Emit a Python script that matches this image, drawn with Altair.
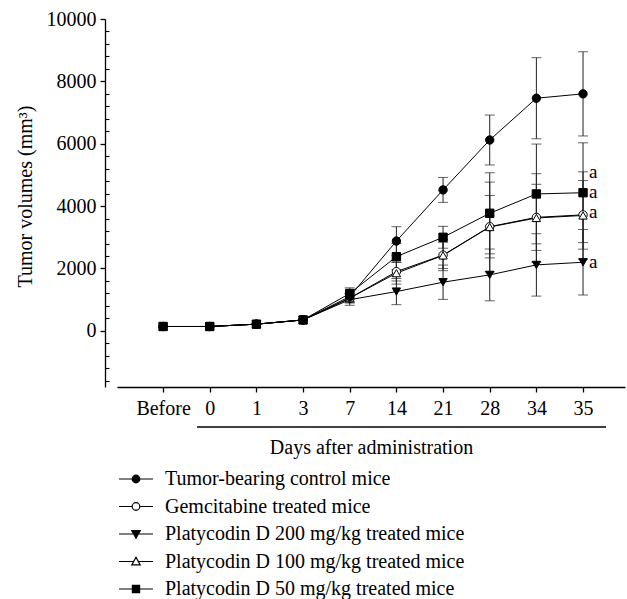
import altair as alt
import pandas as pd

days = ["Before", "0", "1", "3", "7", "14", "21", "28", "34", "35"]
series_names = [
    "Tumor-bearing control mice",
    "Gemcitabine treated mice",
    "Platycodin D 200 mg/kg treated mice",
    "Platycodin D 100 mg/kg treated mice",
    "Platycodin D 50 mg/kg treated mice",
]
control = [140, 140, 215, 350, 1100, 2880, 4520, 6120, 7460, 7600]
control_sd = [0, 0, 0, 0, 150, 460, 400, 800, 1300, 1350]
gem = [140, 140, 215, 350, 1050, 1900, 2430, 3340, 3640, 3720]
gem_sd = [0, 0, 0, 0, 150, 300, 500, 1000, 1060, 1100]
pd200 = [140, 140, 215, 350, 1000, 1260, 1560, 1795, 2115, 2200]
pd200_sd = [0, 0, 0, 0, 180, 420, 550, 830, 1000, 1050]
pd100 = [140, 140, 215, 350, 1050, 1850, 2420, 3330, 3620, 3700]
pd100_sd = [0, 0, 0, 0, 150, 350, 420, 1440, 1420, 1400]
pd50 = [140, 140, 215, 350, 1200, 2380, 3000, 3770, 4390, 4430]
pd50_sd = [0, 0, 0, 0, 180, 420, 350, 1300, 1600, 1600]
sig_labels = ["a", "a", "a", "a"]
sig_values = [5050, 4430, 3790, 2170]
sig_day = "35"

values = [control, gem, pd200, pd100, pd50]
sds = [control_sd, gem_sd, pd200_sd, pd100_sd, pd50_sd]

rows = []
for s, v, e in zip(series_names, values, sds):
    for i, d in enumerate(days):
        rows.append({"series": s, "day": d, "idx": i, "value": v[i], "sd": e[i],
                     "lo": v[i] - e[i], "hi": v[i] + e[i]})
df = pd.DataFrame(rows)
err = df[df.sd > 0]
caps = pd.concat([
    err[["series", "day", "lo"]].rename(columns={"lo": "cap"}),
    err[["series", "day", "hi"]].rename(columns={"hi": "cap"}),
])
sig = pd.DataFrame({"label": sig_labels, "value": sig_values, "day": [sig_day] * len(sig_labels)})

FONT = "Liberation Serif"
FS = 20

xscale = alt.Scale(type="point", domain=days, padding=0.9435, align=0.5235)
yscale = alt.Scale(domain=[-1800, 10000], nice=False, zero=False)

X = alt.X("day:O", scale=xscale, sort=days, title="Days after administration",
          axis=alt.Axis(labelAngle=0, tickSize=5, labelPadding=6, domainWidth=1.3,
                        tickWidth=1.3, labelFont=FONT, labelFontSize=FS, titleFont=FONT,
                        titleFontSize=FS, titleFontWeight="normal", titleBaseline="alphabetic",
                        titleY=66, labelColor="black", titleColor="black",
                        domainColor="black", tickColor="black", grid=False))

yaxis_main = alt.Axis(values=[0, 2000, 4000, 6000, 8000, 10000], format="d", offset=12,
                      tickSize=5, labelPadding=4, domainWidth=1.3, tickWidth=1.3, grid=False,
                      labelFont=FONT, labelFontSize=FS, titleFont=FONT, titleFontSize=FS,
                      titleFontWeight="normal", title="Tumor volumes (mm\u00b3)",
                      titleX=-80, titleY=177, titleBaseline="middle",
                      labelColor="black", titleColor="black", domainColor="black",
                      tickColor="black")
minor_vals = [v for v in range(-1600, 10000, 400) if v % 2000 != 0]
yaxis_minor = alt.Axis(values=minor_vals, orient="right", offset=-520, tickSize=4,
                       labels=False, domain=False, title=None, grid=False,
                       tickWidth=1.1, tickColor="black")

shape_names = ["circle", "circle", "triangle-down", "triangle-up", "square"]
fills = ["black", "white", "black", "white", "black"]

legend_paths = [
    "M-1.7,0H-0.38M0.38,0H1.7M0.38,0A0.38,0.38 0 1,1 -0.38,0A0.38,0.38 0 1,1 0.38,0Z",
    "M-1.7,0H-0.38M0.38,0H1.7M0.38,0A0.38,0.38 0 1,1 -0.38,0A0.38,0.38 0 1,1 0.38,0Z",
    "M-1.7,0H-0.3M0.3,0H1.7M-0.42,-0.34L0.42,-0.34L0,0.42Z",
    "M-1.7,0H-0.24M0.24,0H1.7M-0.42,0.34L0.42,0.34L0,-0.42Z",
    "M-1.7,0H-0.36M0.36,0H1.7M-0.36,-0.36H0.36V0.36H-0.36Z",
]

rules = alt.Chart(err).mark_rule(color="#222", strokeWidth=1).encode(
    x=X, y=alt.Y("lo:Q", scale=yscale, axis=yaxis_minor), y2="hi:Q")
cap_layer = alt.Chart(caps).mark_tick(orient="horizontal", size=10, thickness=1, color="#222").encode(
    x=X, y=alt.Y("cap:Q", scale=yscale, axis=None))

lines = alt.Chart(df).mark_line(color="black", strokeWidth=1).encode(
    x=X,
    y=alt.Y("value:Q", scale=yscale, axis=yaxis_main),
    detail="series:N", order="idx:Q")

points = alt.Chart(df).mark_point(stroke="black", strokeWidth=1, opacity=1, size=70).encode(
    x=X,
    y=alt.Y("value:Q", scale=yscale, axis=None),
    shape=alt.Shape("series:N", scale=alt.Scale(domain=series_names, range=shape_names), legend=None),
    fill=alt.Fill("series:N", scale=alt.Scale(domain=series_names, range=fills), legend=None),
    order=alt.Order("zorder:Q"),
).transform_calculate(zorder="datum.series == 'Tumor-bearing control mice' ? 10 : 0")

legend_layer = alt.Chart(df).transform_filter("false").mark_point(
    strokeWidth=1.2, opacity=1).encode(
    x=X,
    y=alt.Y("value:Q", scale=yscale, axis=None),
    shape=alt.Shape("series:N", scale=alt.Scale(domain=series_names, range=legend_paths),
                    legend=alt.Legend(title=None, orient="none", legendX=8, legendY=449,
                                      symbolSize=400, symbolStrokeWidth=1.2, symbolOpacity=1,
                                      labelFont=FONT, labelFontSize=FS, labelColor="black",
                                      labelOffset=18, rowPadding=6.5, padding=0,
                                      labelLimit=500)),
    fill=alt.Fill("series:N", scale=alt.Scale(domain=series_names, range=fills)),
    stroke=alt.Stroke("series:N", scale=alt.Scale(domain=series_names, range=["black"] * 5)),
)

sig_layer = alt.Chart(sig).mark_text(font=FONT, fontSize=19, align="left", baseline="middle",
                                     dx=6, dy=-1, color="black").encode(
    x=X, y=alt.Y("value:Q", scale=yscale, axis=None), text="label:N")

bracket = alt.Chart(pd.DataFrame({"k": [0]})).mark_rule(color="black", strokeWidth=1.3).encode(
    x=alt.value(80), x2=alt.value(489), y=alt.value(408))

chart = alt.layer(rules, cap_layer, lines, points, legend_layer, sig_layer, bracket).resolve_scale(
    shape="independent", fill="independent", stroke="independent").resolve_axis(
    y="independent").properties(
    width=508, height=368,
    background="white",
    autosize=alt.AutoSizeParams(type="none"),
    padding={"left": 117, "top": 19, "right": 2, "bottom": 212},
).configure_view(strokeWidth=0, stroke="transparent")

chart.save("out.html", embed_options={"renderer": "svg", "actions": False})
